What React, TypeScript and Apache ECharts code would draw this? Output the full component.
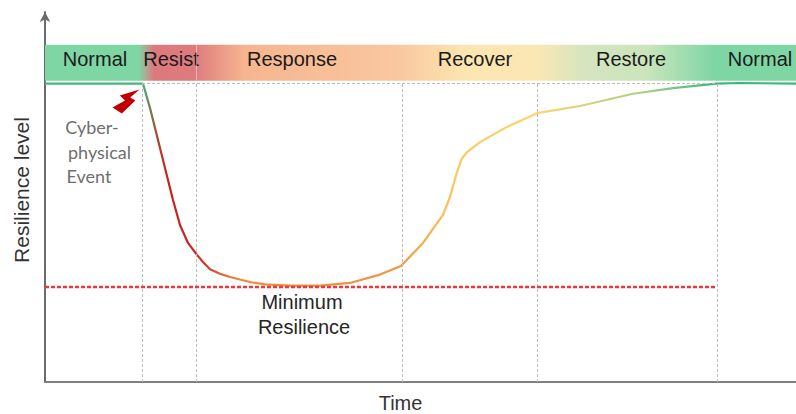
import React, { useEffect, useRef } from "react";
import * as echarts from "echarts";

const FONT = "Liberation Sans";
// x: time position, y: resilience level (normal = 100)
const curveX = [0, 98, 105, 113, 121, 128, 135, 143, 152, 158, 165, 175, 185, 205, 220, 245, 275, 305, 335, 356, 378, 398, 405, 412, 417, 422, 435, 462, 492, 535, 588, 628, 671, 695, 751];
const curveY = [100, 100, 91.8, 81.1, 70.4, 61, 52.6, 46.6, 42.6, 40.2, 37.8, 36.3, 35.2, 33.5, 32.7, 32.3, 32.3, 33.2, 36, 38.9, 46.6, 56, 62, 70.4, 75, 77, 80.4, 85.5, 90.1, 92.5, 96.6, 98.5, 100, 100.2, 100];
const curveStops = [[0, "#3cb878"], [0.13, "#3cb878"], [0.15, "#a8452f"], [0.165, "#c8221f"], [0.2, "#c8281f"], [0.26, "#ee8a3a"], [0.47, "#ef9644"], [0.55, "#fdc95f"], [0.66, "#fdd46d"], [0.8, "#a9cf86"], [0.89, "#3cb878"], [1, "#3cb878"]];
const bandStops = [[0, "#7fd6a5"], [0.125, "#7fd6a5"], [0.145, "#dd797e"], [0.2, "#de7b7e"], [0.265, "#f6b58f"], [0.47, "#f9c7a0"], [0.56, "#fce6b0"], [0.655, "#fbe7b4"], [0.72, "#d5e5bf"], [0.8, "#cbe5bb"], [0.89, "#7fd6a5"], [1, "#7fd6a5"]];
const phaseTimes = [97, 151, 357, 492, 672];
const bandSeams = [151];
const bandLabels = [["Normal", 50], ["Resist", 126], ["Response", 247], ["Recover", 430], ["Restore", 586], ["Normal", 715]];
const annotationLines = [["Cyber-", 47, 85.5], ["physical", 54.5, 77], ["Event", 44, 69]];
const minimumLabels = [["Minimum", 257, 26.8], ["Resilience", 259, 18.4]];
const MINIMUM = 31.8;
const NORMAL = 100;
const BAND = [101, 113];
const BOLT = "path://M26,0 L7,6 L12,11 L0,18 L9,24 L22,11 L17,8 Z";

const grad = (stops: any[]) =>
  new echarts.graphic.LinearGradient(0, 0, 1, 0, stops.map(([offset, color]) => ({ offset, color })));

const textSeries = (rows: any[], color: string, size: number, font = FONT) => ({
  type: "scatter",
  symbolSize: 0,
  silent: true,
  itemStyle: { opacity: 1 },
  data: rows.map((r) => ({
    value: [r[1], r[2] ?? 108.2],
    label: { show: true, formatter: r[0], position: "inside", color, opacity: 1, fontSize: size, fontFamily: font },
  })),
});

export default function App() {
  const ref = useRef<HTMLDivElement>(null);
  useEffect(() => {
    const chart = echarts.init(ref.current!, undefined, { renderer: "svg" });
    chart.setOption({
      animation: false,
      grid: { left: 45, right: 0, top: 12, bottom: 32, outerBoundsMode: "none" },
      xAxis: {
        type: "value", min: 0, max: 751,
        axisLine: { show: true, lineStyle: { color: "#7f7f7f", width: 2 } },
        axisTick: { show: false }, axisLabel: { show: false }, splitLine: { show: false },
        name: "Time", nameLocation: "middle", nameGap: 11,
        nameTextStyle: { color: "#333333", fontSize: 20, fontFamily: FONT, padding: [0, 40, 0, 0] },
      },
      yAxis: {
        type: "value", min: 0, max: 124,
        axisLine: { show: true, symbol: ["none", "arrow"], symbolSize: [8, 10], lineStyle: { color: "#6b6b6b", width: 2 } },
        axisTick: { show: false }, axisLabel: { show: false }, splitLine: { show: false },
        name: "Resilience level", nameLocation: "middle", nameGap: 13,
        nameTextStyle: { color: "#333333", fontSize: 21, fontFamily: FONT, padding: [0, 0, 0, 14] },
      },
      series: [
        {
          type: "line", silent: true, symbol: "none", data: [],
          markArea: {
            silent: true,
            itemStyle: { color: grad(bandStops) },
            data: [[{ xAxis: 0, yAxis: BAND[0] }, { xAxis: 751, yAxis: BAND[1] }]],
          },
          markLine: {
            silent: true, symbol: "none", label: { show: false },
            lineStyle: { color: "#bdbdbd", width: 1, type: [3, 2] },
            data: [
              ...phaseTimes.map((t) => [{ coord: [t, 0] }, { coord: [t, NORMAL] }]),
              ...bandSeams.map((t) => [
                { coord: [t, BAND[0]], lineStyle: { color: "rgba(255,255,255,0.4)", width: 1, type: "solid" } },
                { coord: [t, BAND[1]] },
              ]),
              [{ coord: [97, NORMAL] }, { coord: [672, NORMAL] }],
              [{ coord: [0, MINIMUM], lineStyle: { color: "#f0383c", width: 2.4, type: [4, 2] } }, { coord: [672, MINIMUM] }],
            ],
          },
        },
        {
          type: "line", silent: true, symbol: "none", smooth: false,
          lineStyle: { width: 2.2, color: grad(curveStops) },
          data: curveX.map((x, i) => [x, curveY[i]]),
        },
        {
          type: "scatter", silent: true, symbol: BOLT, symbolSize: [27, 24],
          itemStyle: { color: "#c00000", opacity: 1 },
          data: [[81, 94]],
        },
        textSeries(bandLabels, "#1a1a1a", 20),
        textSeries(annotationLines, "#6f6f6f", 18, "Lato"),
        textSeries(minimumLabels, "#262626", 20),
      ],
    });
    return () => chart.dispose();
  }, []);
  return <div ref={ref} style={{ position: "fixed", left: 0, top: 0, width: 796, height: 414, background: "#fff" }} />;
}
